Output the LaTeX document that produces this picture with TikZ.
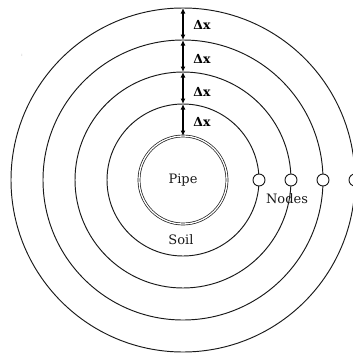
\documentclass[tikz,border=0pt]{standalone}
\usepackage{fontspec}
\setmainfont{DejaVu Serif}
\usetikzlibrary{arrows.meta}
\begin{document}
\begin{tikzpicture}[x=1pt,y=-1pt,
  ring/.style={circle, draw=black!90, line width=0.95pt, inner sep=0pt, outer sep=0pt},
  nodecirc/.style={circle, draw=black!90, fill=white, line width=0.95pt, minimum size=12pt, inner sep=0pt},
  dim/.style={{Latex[length=5.5pt,width=5pt]}-{Latex[length=5.5pt,width=5pt]}, line width=1.3pt},
  lbl/.style={font=\fontsize{13}{15}\selectfont, text=black!90},
  dlbl/.style={font=\bfseries\fontsize{12.5}{14}\selectfont}]
\useasboundingbox (0,0) rectangle (353,354);
\coordinate (c) at (183,180);
\node[ring, minimum size=152pt] (r1) at (c) {};
\node[ring, minimum size=216pt] (r2) at (c) {};
\node[ring, minimum size=280pt] (r3) at (c) {};
\node[ring, minimum size=344pt] (r4) at (c) {};
\node[circle, draw=black!90, line width=0.7pt, double=white, double distance=1.3pt,
      minimum size=88pt, inner sep=0pt, outer sep=0pt, lbl] (pipe) at (c) {Pipe};
\node[nodecirc] (n1) at (r1.east) {};
\node[nodecirc] (n2) at (r2.east) {};
\node[nodecirc] (n3) at (r3.east) {};
\node[nodecirc] (n4) at (r4.east) {};
\draw[dim] (r4.north) -- (r3.north);
\draw[dim] (r3.north) -- (r2.north);
\draw[dim] (r2.north) -- (r1.north);
\draw[dim] (r1.north) -- (pipe.north);
\node[dlbl] (d4) at (202,25) {Δx};
\node[dlbl] (d3) at (202,59) {Δx};
\node[dlbl] (d2) at (202,92) {Δx};
\node[dlbl] (d1) at (202,122) {Δx};
\node[lbl] (nodes) at (287,199) {Nodes};
\node[lbl] (soil) at (181,240) {Soil};
\node[text=black!40, font=\tiny] (colon) at (22,55) {:};
\end{tikzpicture}
\end{document}
